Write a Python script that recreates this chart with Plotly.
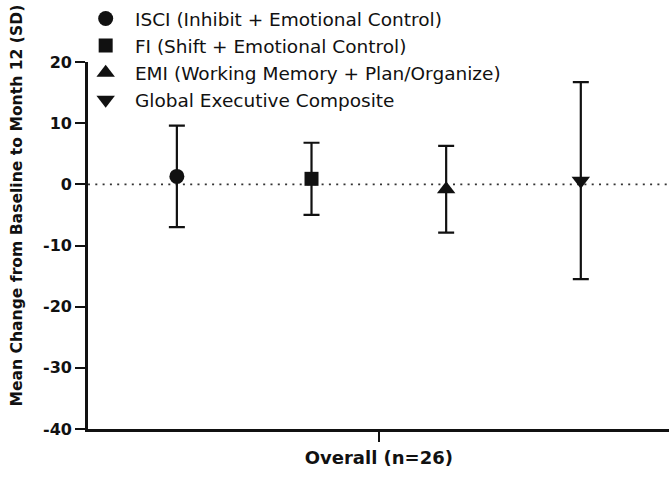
import plotly.graph_objects as go

# Mean change from baseline to month 12, with SD, for each BRIEF index
measures = [
    "ISCI (Inhibit + Emotional Control)",
    "FI (Shift + Emotional Control)",
    "EMI (Working Memory + Plan/Organize)",
    "Global Executive Composite",
]
mean_change = [1.3, 0.9, -0.8, 0.6]
sd = [8.3, 5.9, 7.1, 16.1]
group_label = "Overall (n=26)"
y_ticks = [-40, -30, -20, -10, 0, 10, 20]

symbols = ["circle", "square", "triangle-up", "triangle-down"]
sizes = [15, 14, 16, 16]
ink = "#111111"

fig = go.Figure()
for i, name in enumerate(measures):
    fig.add_trace(go.Scatter(
        x=[i + 1],
        y=[mean_change[i]],
        mode="markers",
        name="\u2002" + name,
        legendgroup=f"g{i}",
        marker=dict(symbol=symbols[i], size=sizes[i], color=ink),
        error_y=dict(type="data", array=[sd[i]], symmetric=True,
                     thickness=2.2, width=8, color=ink),
    ))

# dotted reference line at zero change
fig.add_shape(type="line", xref="paper", yref="y", x0=0, x1=1, y0=0, y1=0,
              line=dict(color="#333333", width=1.6, dash="2px,5.3px"),
              layer="below")

fig.update_layout(
    width=669, height=478,
    margin=dict(l=88, r=0, t=61, b=49),
    paper_bgcolor="white", plot_bgcolor="white",
    font=dict(family="DejaVu Sans", color=ink),
    showlegend=True,
    legend=dict(x=-0.004, y=1.168, xanchor="left", yanchor="top",
                font=dict(family="DejaVu Sans", size=18.5, color=ink),
                bgcolor="rgba(0,0,0,0)", tracegroupgap=0,
                itemsizing="trace"),
    xaxis=dict(range=[0.34, 4.655], tickmode="array",
               tickvals=[2.5], ticktext=[group_label],
               showline=True, linecolor=ink, linewidth=2.6,
               ticks="outside", ticklen=10, tickwidth=2.4, tickcolor=ink,
               tickfont=dict(family="DejaVu Sans", size=18, weight="bold",
                             color=ink),
               ticklabelstandoff=1,
               showgrid=False, zeroline=False),
    yaxis=dict(range=[-40, 20], tickmode="array", tickvals=y_ticks,
               ticktext=[str(v) for v in y_ticks],
               showline=True, linecolor=ink, linewidth=2.6,
               ticks="outside", ticklen=10, tickwidth=2.4, tickcolor=ink,
               tickfont=dict(family="DejaVu Sans", size=16, weight="bold",
                             color=ink),
               showgrid=False, zeroline=False),
    annotations=[dict(
        text="Mean Change from Baseline to Month 12 (SD)",
        xref="paper", yref="paper", x=-0.122, y=0.609,
        xanchor="center", yanchor="middle", textangle=-90, showarrow=False,
        font=dict(family="DejaVu Sans", size=15.6, weight="bold", color=ink),
    )],
)

fig.write_html("out.html")
